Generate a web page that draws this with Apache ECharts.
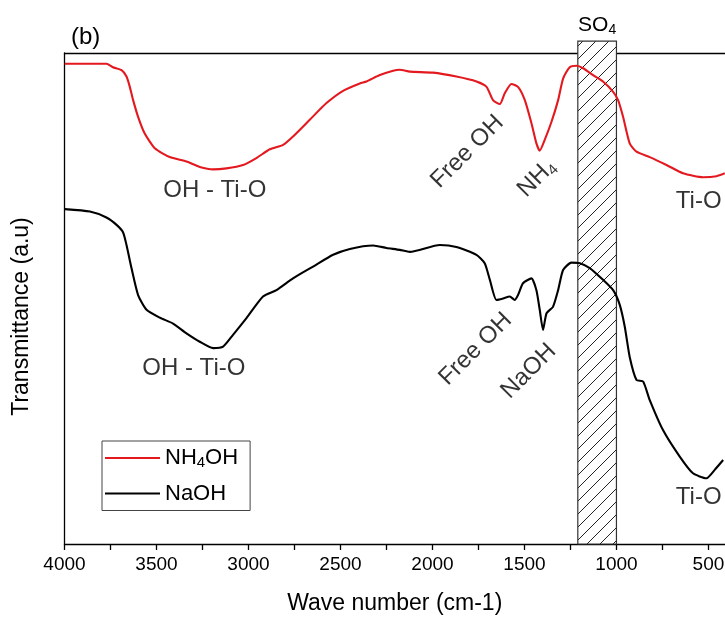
<!DOCTYPE html>
<html>
<head>
<meta charset="utf-8">
<script src="https://cdn.jsdelivr.net/npm/echarts@6/dist/echarts.min.js"></script>
<style>
html,body{margin:0;padding:0;background:#fff;}
#chart{width:725px;height:619px;}
</style>
</head>
<body>
<div id="chart"></div>
<script>
// Wavenumbers (cm-1) and transmittance (arbitrary units)
const redWn = [3998, 3862, 3772, 3737, 3690, 3663, 3645, 3627, 3600, 3564, 3509, 3428, 3337, 3265, 3192, 3120, 3029, 2957, 2884, 2812, 2758, 2667, 2576, 2486, 2395, 2359, 2286, 2214, 2178, 2123, 1997, 1870, 1761, 1706, 1671, 1634, 1607, 1571, 1535, 1498, 1462, 1435, 1417, 1390, 1353, 1317, 1290, 1254, 1217, 1181, 1127, 1073, 1018, 991, 964, 928, 891, 819, 728, 638, 529, 456, 411];
const redT = [97.8, 97.8, 97.8, 97.1, 96.5, 95.2, 93.1, 90.4, 87.0, 83.6, 80.6, 78.8, 77.9, 76.8, 76.3, 76.5, 77.2, 78.6, 80.4, 81.3, 83.0, 86.4, 89.8, 92.3, 93.8, 94.2, 95.5, 96.4, 96.6, 96.2, 96.0, 95.2, 94.2, 93.1, 90.4, 89.6, 91.8, 93.7, 93.1, 90.4, 85.7, 81.6, 80.1, 82.3, 86.0, 90.4, 94.8, 97.1, 97.4, 96.9, 95.5, 94.2, 92.1, 90.4, 87.0, 81.6, 79.9, 78.8, 77.2, 75.5, 74.7, 74.9, 75.5];

const blackWn = [3998, 3862, 3772, 3717, 3682, 3663, 3636, 3600, 3554, 3482, 3410, 3337, 3265, 3192, 3138, 3084, 3011, 2921, 2848, 2758, 2649, 2540, 2449, 2323, 2250, 2178, 2123, 1960, 1870, 1761, 1716, 1688, 1652, 1616, 1580, 1553, 1535, 1508, 1462, 1435, 1417, 1399, 1380, 1345, 1317, 1290, 1245, 1199, 1145, 1073, 1018, 982, 955, 928, 891, 855, 819, 747, 656, 584, 511, 466, 420];
const blackT = [68.2, 67.7, 66.5, 65.0, 63.5, 60.9, 56.2, 50.7, 47.7, 46.1, 44.9, 42.9, 41.2, 39.9, 40.2, 42.6, 46.0, 50.4, 51.7, 54.1, 56.5, 58.9, 60.1, 60.8, 60.3, 59.9, 59.5, 60.9, 60.5, 58.9, 57.2, 53.8, 49.7, 50.0, 50.4, 49.7, 50.7, 53.1, 54.1, 51.7, 47.7, 43.6, 47.0, 48.3, 51.7, 55.8, 57.3, 57.2, 56.2, 53.8, 51.7, 48.7, 44.3, 38.1, 33.4, 33.1, 29.3, 23.2, 17.8, 14.4, 13.4, 15.1, 17.1];

// SO4 band (hatched area)
const so4Band = [1210, 1000];
const so4Top = 102.4;

// Annotations
const annoWn = [3183, 3297, 1811, 1433, 1766, 1477, 553, 553];
const annoT = [72.1, 35.8, 79.9, 74.5, 39.7, 35.2, 69.7, 9.4];
const annoText = ['OH - Ti-O', 'OH - Ti-O', 'Free OH', 'NH{s|4}', 'Free OH', 'NaOH', 'Ti-O', 'Ti-O'];
const annoRotate = [0, 0, 45, 45, 45, 45, 0, 0];

const seriesNames = ['NH4OH', 'NaOH'];
const xRange = [410, 4000];
const xTickValues = [4000, 3750, 3500, 3250, 3000, 2750, 2500, 2250, 2000, 1750, 1500, 1250, 1000, 750, 500];
const xLabelValues = [4000, 3500, 3000, 2500, 2000, 1500, 1000, 500];

const FONT = '"Liberation Sans", Arial, sans-serif';

function makeHatch() {
  const s = 13;
  const c = document.createElement('canvas');
  c.width = s; c.height = s;
  const g = c.getContext('2d');
  g.fillStyle = '#fff';
  g.fillRect(0, 0, s, s);
  g.strokeStyle = '#222';
  g.lineWidth = 1;
  g.beginPath();
  g.moveTo(-1, s + 1); g.lineTo(s + 1, -1);
  g.moveTo(-1, 1); g.lineTo(1, -1);
  g.moveTo(s - 1, s + 1); g.lineTo(s + 1, s - 1);
  g.stroke();
  return c;
}
const hatch = makeHatch();

const chart = echarts.init(document.getElementById('chart'), null, { renderer: 'canvas' });

const pair = (xs, ys) => xs.map((x, i) => [x, ys[i]]);

const option = {
  animation: false,
  backgroundColor: '#fff',
  textStyle: { fontFamily: FONT },
  title: {
    text: '(b)', left: 66, top: 20,
    textStyle: { fontFamily: FONT, fontSize: 24, fontWeight: 'normal', color: '#000' }
  },
  grid: { left: 64.5, top: 53, bottom: 75, right: 0, containLabel: false, outerBoundsMode: 'none' },
  legend: {
    data: seriesNames,
    orient: 'vertical',
    left: 102, top: 441,
    borderColor: '#444', borderWidth: 1,
    padding: [6, 12, 6, 3],
    icon: 'rect',
    itemWidth: 55, itemHeight: 2.2, itemGap: 12,
    formatter: n => n === 'NH4OH' ? '{n|NH}{s|4}{n|OH}' : '{n|NaOH}',
    textStyle: {
      fontFamily: FONT,
      rich: {
        n: { fontSize: 22, color: '#000', fontFamily: FONT },
        s: { fontSize: 15, color: '#000', fontFamily: FONT, verticalAlign: 'bottom', padding: [10, 0, 0, 0] }
      }
    }
  },
  xAxis: [{
    type: 'value', inverse: true,
    min: xRange[0], max: xRange[1],
    name: 'Wave number (cm-1)', nameLocation: 'middle', nameGap: 48,
    nameTextStyle: { fontFamily: FONT, fontSize: 23, color: '#000' },
    axisLine: { show: true, onZero: false, lineStyle: { color: '#000', width: 1.3 } },
    axisTick: { show: true, inside: false, length: 6, customValues: xTickValues, lineStyle: { color: '#000', width: 1.3 } },
    axisLabel: { fontFamily: FONT, fontSize: 19, color: '#000', margin: 11, customValues: xLabelValues, formatter: v => String(v) },
    splitLine: { show: false }
  }, {
    type: 'value', inverse: true, position: 'top',
    min: xRange[0], max: xRange[1],
    axisLine: { show: true, onZero: false, lineStyle: { color: '#000', width: 1.3 } },
    axisTick: { show: false }, axisLabel: { show: false }, splitLine: { show: false }
  }],
  yAxis: {
    type: 'value', min: 0, max: 100,
    name: 'Transmittance (a.u)', nameLocation: 'middle', nameGap: 31, nameRotate: 90,
    nameTextStyle: { fontFamily: FONT, fontSize: 23, color: '#000', padding: [0, 36, 0, 0] },
    axisLine: { show: true, onZero: false, lineStyle: { color: '#000', width: 1.3 } },
    axisTick: { show: false }, axisLabel: { show: false }, splitLine: { show: false }
  },
  series: [
    {
      type: 'custom', name: 'SO4', silent: true, clip: false, z: 1,
      data: [[so4Band[0], so4Band[1], so4Top]],
      renderItem: (params, api) => {
        const p0 = api.coord([api.value(0), api.value(2)]);
        const p1 = api.coord([api.value(1), 0]);
        return {
          type: 'rect',
          shape: { x: p0[0], y: p0[1], width: p1[0] - p0[0], height: p1[1] - p0[1] },
          style: { fill: { image: hatch, repeat: 'repeat' }, stroke: '#333', lineWidth: 1.2 },
          textContent: {
            style: {
              text: '{n|SO}{s|4}',
              rich: {
                n: { fontSize: 21, fill: '#000', fontFamily: FONT },
                s: { fontSize: 14, fill: '#000', fontFamily: FONT, verticalAlign: 'bottom', padding: [10, 0, 0, 0] }
              }
            }
          },
          textConfig: { position: 'top', distance: 3 }
        };
      }
    },
    {
      type: 'line', name: 'NaOH', data: pair(blackWn, blackT),
      symbol: 'none', smooth: 0.2, z: 3,
      lineStyle: { color: '#000', width: 2.1 }, itemStyle: { color: '#000' }
    },
    {
      type: 'line', name: 'NH4OH', data: pair(redWn, redT),
      symbol: 'none', smooth: 0.2, z: 3,
      lineStyle: { color: '#e3191f', width: 2.1 }, itemStyle: { color: '#e3191f' }
    },
    {
      type: 'scatter', name: 'labels', symbolSize: 0, silent: true, z: 4,
      data: annoWn.map((w, i) => ({
        value: [w, annoT[i]],
        label: {
          show: true, position: 'inside', rotate: annoRotate[i],
          formatter: annoText[i],
          fontFamily: FONT, fontSize: 24, color: '#000',
          align: 'center', verticalAlign: 'middle',
          rich: {
            s: { fontSize: 15, color: '#000', fontFamily: FONT, verticalAlign: 'bottom', padding: [12, 0, 0, 0] }
          }
        }
      }))
    }
  ]
};
chart.setOption(option);
</script>
</body>
</html>
